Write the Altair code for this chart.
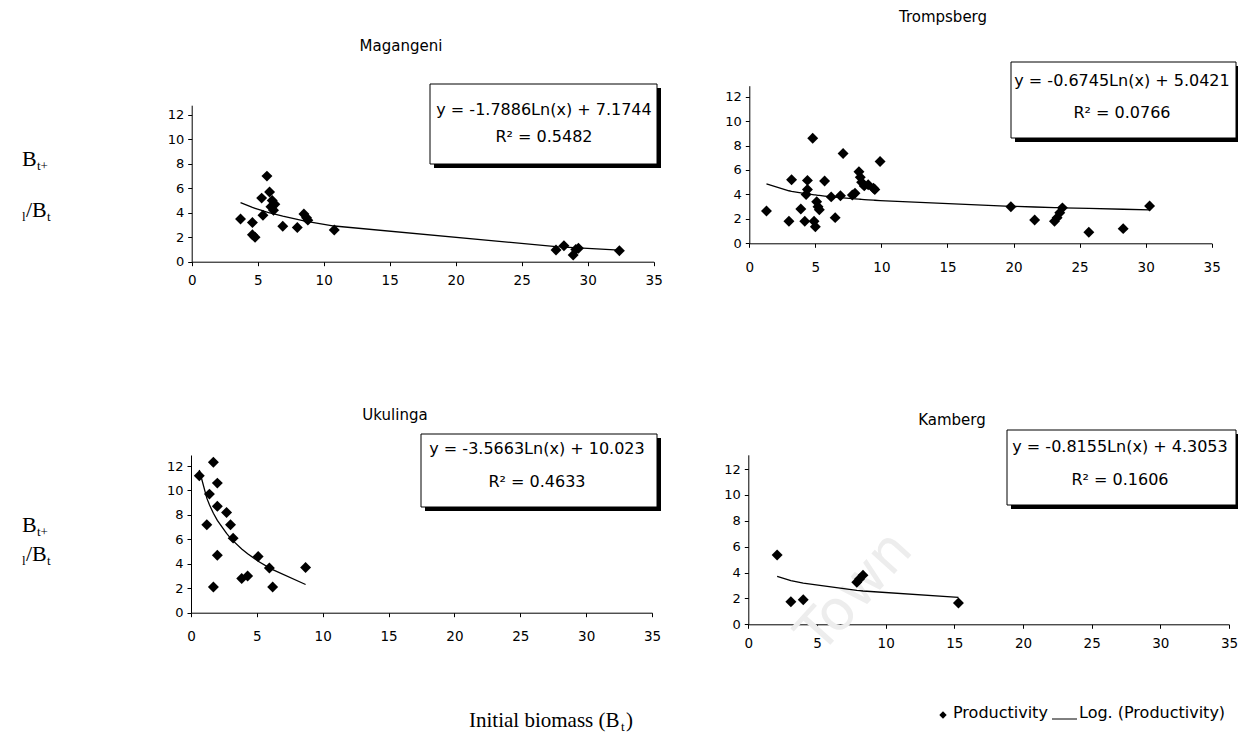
import altair as alt
import pandas as pd

# ---------------- data ----------------
mag_x = [3.7, 4.6, 4.6, 4.8, 5.7, 5.4, 5.3, 5.9, 6.1, 6.3, 6.2, 6.0, 6.9, 8.0, 8.5, 8.7, 8.8, 10.8,
         27.6, 28.2, 28.9, 29.1, 29.3, 32.4]
mag_y = [3.5, 3.2, 2.2, 2.0, 7.0, 3.8, 5.2, 5.7, 5.0, 4.7, 4.2, 4.5, 2.9, 2.8, 3.9, 3.6, 3.4, 2.6,
         0.95, 1.3, 0.55, 1.0, 1.1, 0.9]

tromp_x = [1.3, 3.0, 3.2, 3.9, 4.2, 4.4, 4.4, 4.3, 4.8, 4.9, 5.0, 5.1, 5.3, 5.2, 5.7, 6.2, 6.5, 6.9,
           7.1, 7.8, 8.0, 8.3, 8.4, 8.5, 8.7, 9.0, 9.4, 9.5, 9.9, 19.8, 21.6, 23.1, 23.3, 23.5,
           23.7, 25.7, 28.3, 30.3]
tromp_y = [2.65, 1.8, 5.2, 2.8, 1.8, 5.15, 4.4, 4.0, 8.6, 1.8, 1.35, 3.4, 2.75, 3.0, 5.1, 3.8, 2.1,
           3.9, 7.35, 3.95, 4.1, 5.85, 5.4, 5.0, 4.7, 4.8, 4.5, 4.4, 6.7, 3.0, 1.9, 1.8, 2.1, 2.5,
           2.9, 0.9, 1.2, 3.05]

ukul_x = [0.63, 1.7, 2.0, 1.4, 1.2, 2.0, 2.7, 3.0, 3.2, 2.0, 1.7, 3.85, 4.3, 5.1, 5.95, 6.2, 8.7]
ukul_y = [11.2, 12.3, 10.6, 9.7, 7.2, 8.7, 8.2, 7.2, 6.1, 4.7, 2.1, 2.8, 3.0, 4.6, 3.65, 2.1, 3.7]

kamb_x = [2.1, 3.1, 4.0, 7.9, 8.1, 8.35, 15.3]
kamb_y = [5.35, 1.75, 1.9, 3.25, 3.5, 3.8, 1.65]

names = ["Magangeni", "Trompsberg", "Ukulinga", "Kamberg"]
trend_a = [-1.7886, -0.6745, -3.5663, -0.8155]
trend_b = [7.1744, 5.0421, 10.023, 4.3053]
eq_text = ["y = -1.7886Ln(x) + 7.1744", "y = -0.6745Ln(x) + 5.0421",
           "y = -3.5663Ln(x) + 10.023", "y = -0.8155Ln(x) + 4.3053"]
r2_text = ["R\u00b2 = 0.5482", "R\u00b2 = 0.0766", "R\u00b2 = 0.4633", "R\u00b2 = 0.1606"]
x_ticks = [0, 5, 10, 15, 20, 25, 30, 35]
y_ticks = [0, 2, 4, 6, 8, 10, 12]

# ---------------- layout (pixels, page coordinates) ----------------
W, H = 1230, 736
O = 8  # page margin
SANS = "DejaVu Sans"
SERIF = "Liberation Serif"

layout = [
    dict(xr=[191.7, 653.7], yr=[261.7, 105.2], ytop=12.8, lpad=9,
         title=(401, 46), box=(430, 84, 657, 164), eq=(544, 110), r2=(544, 137)),
    dict(xr=[749.3, 1211.7], yr=[243.3, 85.7], ytop=12.9, lpad=14,
         title=(943, 17), box=(1011, 62, 1236, 138), eq=(1122, 81), r2=(1122, 113)),
    dict(xr=[191.0, 652.0], yr=[612.7, 455.0], ytop=12.9, lpad=14,
         title=(395, 415), box=(421, 434, 657, 507), eq=(537, 449), r2=(537, 482)),
    dict(xr=[748.3, 1229.0], yr=[624.3, 454.8], ytop=13.1, lpad=9,
         title=(952, 420), box=(1007, 430, 1236, 505), eq=(1120, 447), r2=(1120, 480)),
]
series = [(mag_x, mag_y), (tromp_x, tromp_y), (ukul_x, ukul_y), (kamb_x, kamb_y)]

one = alt.Data(values=[{"k": 1}])


def px(v):
    return v - O


def text_mark(txt, x, y, size, font=SANS, align="center", baseline="middle", color="black",
              angle=0):
    return alt.Chart(one).mark_text(text=txt, font=font, fontSize=size, align=align,
                                    baseline=baseline, color=color, angle=angle).encode(
        x=alt.value(px(x)), y=alt.value(px(y)))


def rect_mark(x1, y1, x2, y2, fill, stroke=None, sw=0):
    kw = dict(fill=fill, strokeWidth=sw)
    if stroke:
        kw["stroke"] = stroke
    return alt.Chart(one).mark_rect(**kw).encode(
        x=alt.value(px(x1)), x2=alt.value(px(x2)), y=alt.value(px(y1)), y2=alt.value(px(y2)))


panels = []
annots = []
for i, (xs, ys) in enumerate(series):
    L = layout[i]
    xr = [px(L["xr"][0]), px(L["xr"][1])]
    yr = [px(L["yr"][0]), px(L["yr"][1])]
    df = pd.DataFrame({"x": xs, "y": ys})
    xscale = alt.Scale(domain=[0, 35], range=xr, nice=False, zero=False)
    yscale = alt.Scale(domain=[0, L["ytop"]], range=yr, nice=False, zero=False)
    xaxis = alt.Axis(values=x_ticks, orient="bottom", offset=yr[0] - H, title=None,
                     labelPadding=L["lpad"] - 1, labelFontSize=13.5, format="d")
    yaxis = alt.Axis(values=y_ticks, orient="left", offset=-xr[0], title=None,
                     labelPadding=4, labelFontSize=13, format="d")
    base = alt.Chart(df)
    pts = base.mark_point(shape="diamond", filled=True, size=120, color="black", opacity=1).encode(
        x=alt.X("x:Q", scale=xscale, axis=xaxis),
        y=alt.Y("y:Q", scale=yscale, axis=yaxis))
    line = base.transform_calculate(
        fit=f"{trend_a[i]} * log(datum.x) + {trend_b[i]}"
    ).mark_line(color="black", strokeWidth=1.3).encode(
        x=alt.X("x:Q", scale=xscale, axis=xaxis),
        y=alt.Y("fit:Q", scale=yscale, axis=yaxis),
        order="x:Q")
    panels.append(alt.layer(pts, line))

    # title
    annots.append(text_mark(names[i], L["title"][0], L["title"][1], 15))
    # equation box with shadow
    bx1, by1, bx2, by2 = L["box"]
    annots.append(rect_mark(bx1 + 4, by1 + 4, bx2 + 4, by2 + 4, "black"))
    annots.append(rect_mark(bx1, by1, bx2, by2, "white", "black", 1))
    annots.append(text_mark(eq_text[i], L["eq"][0], L["eq"][1], 16))
    annots.append(text_mark(r2_text[i], L["r2"][0], L["r2"][1], 16))

# left axis labels  B_{t+1}/B_t  (serif)
for (y1, y2) in [(166, 217), (532, 561)]:
    annots.append(text_mark("B", 22, y1, 22, SERIF, align="left", baseline="alphabetic"))
    annots.append(text_mark("t+", 37, y1 + 4, 13, SERIF, align="left", baseline="alphabetic"))
    annots.append(text_mark("l", 22, y2 + 4, 13, SERIF, align="left", baseline="alphabetic"))
    annots.append(text_mark("/B", 26, y2, 22, SERIF, align="left", baseline="alphabetic"))
    annots.append(text_mark("t", 47, y2 + 4, 13, SERIF, align="left", baseline="alphabetic"))

# bottom x label
annots.append(text_mark("Initial biomass (B", 469, 727, 21, SERIF, align="left",
                        baseline="alphabetic"))
annots.append(text_mark("t", 621, 731, 13, SERIF, align="left", baseline="alphabetic"))
annots.append(text_mark(")", 626, 727, 21, SERIF, align="left", baseline="alphabetic"))

# legend
leg_y = 713
annots.append(alt.Chart(one).mark_point(shape="diamond", filled=True, size=55, color="black",
                                        opacity=1).encode(x=alt.value(px(943)),
                                                          y=alt.value(px(leg_y + 2))))
annots.append(text_mark("Productivity", 953, leg_y, 16, align="left"))
annots.append(alt.Chart(one).mark_rule(color="black", strokeWidth=1).encode(
    x=alt.value(px(1052)), x2=alt.value(px(1077)), y=alt.value(px(leg_y + 6))))
annots.append(text_mark("Log. (Productivity)", 1079, leg_y, 16, align="left"))

# faint watermark
annots.append(text_mark("Town", 855, 592, 56, align="center", color="#ededed", angle=312))

chart = alt.layer(*annots[-1:], *panels, *annots[:-1]).resolve_scale(
    x="independent", y="independent"
).resolve_axis(x="independent", y="independent").properties(
    width=W, height=H, autosize=alt.AutoSizeParams(type="none"), padding=0,
    background="white"
).configure_view(stroke=None).configure_axis(
    domainColor="black", tickColor="black", labelColor="black", labelFont=SANS,
    tickSize=4, domainWidth=1, tickWidth=1, grid=False, labelFlush=False
)

chart.save("out.html", embed_options={"renderer": "svg", "actions": False})
